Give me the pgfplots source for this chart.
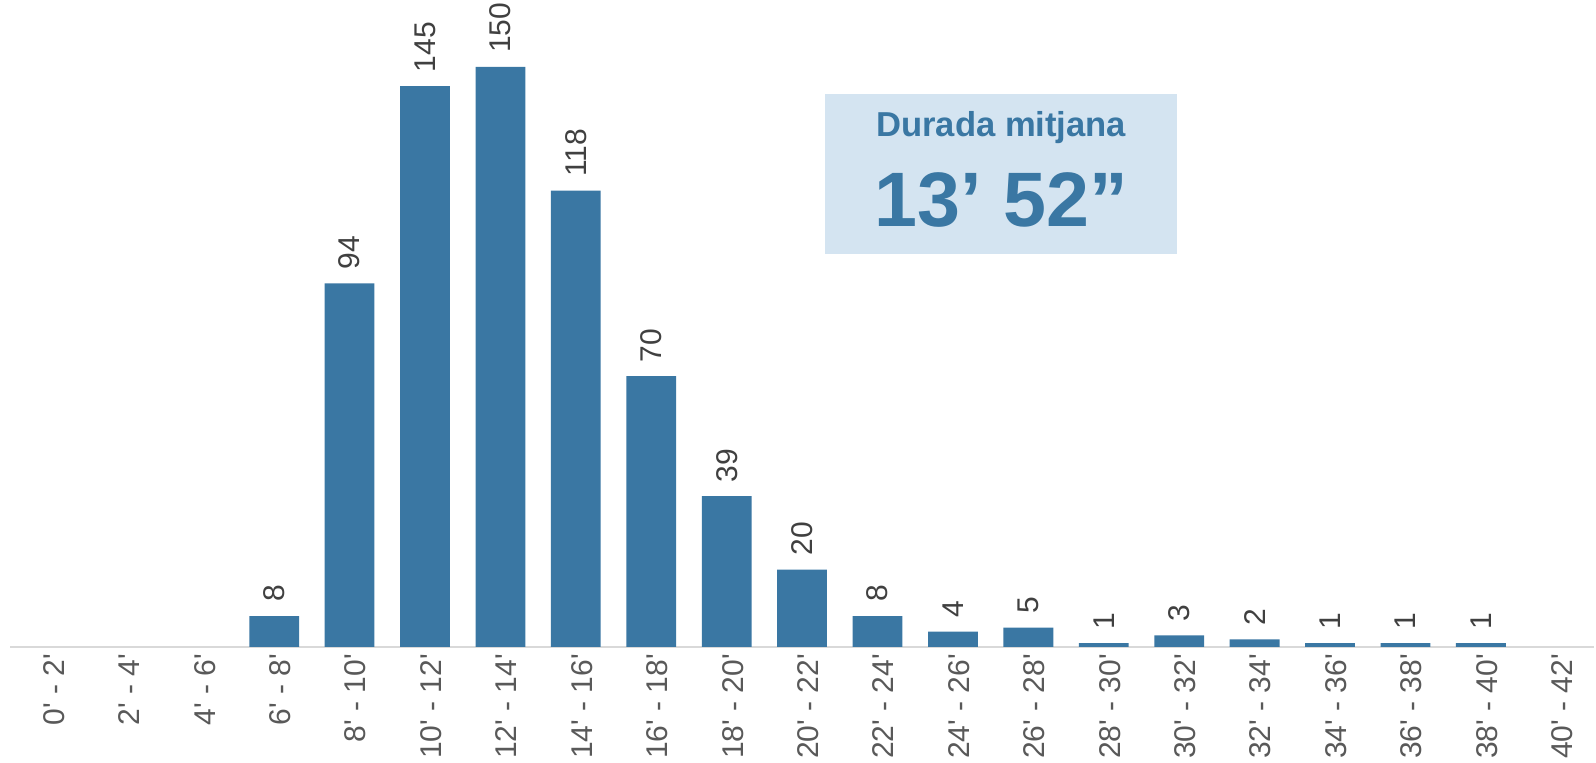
\documentclass[border=0pt]{standalone}
\usepackage{pgfplots}
\pgfplotsset{compat=1.18}
\usepackage{fontspec}
\setmainfont{Liberation Sans}
\newcommand\q{\textquotesingle}
\definecolor{barblue}{HTML}{3A77A3}
\definecolor{boxblue}{HTML}{D4E4F1}
\definecolor{lblgray}{HTML}{404040}
\definecolor{tickgray}{HTML}{595959}
\definecolor{axgray}{HTML}{D9D9D9}
\begin{document}
\begin{tikzpicture}
\begin{axis}[
  at={(0,0)}, anchor=origin,
  scale only axis,
  width=791.9pt, height=319.1pt,
  xmin=-0.5, xmax=20.5,
  ymin=0, ymax=165,
  axis line style={draw=none},
  axis x line=bottom,
  axis y line=none,
  xtick={0,...,20},
  xticklabels={0\q{} - 2\q,2\q{} - 4\q,4\q{} - 6\q,6\q{} - 8\q,8\q{} - 10\q,10\q{} - 12\q,12\q{} - 14\q,14\q{} - 16\q,16\q{} - 18\q,18\q{} - 20\q,20\q{} - 22\q,22\q{} - 24\q,24\q{} - 26\q,26\q{} - 28\q,28\q{} - 30\q,30\q{} - 32\q,32\q{} - 34\q,34\q{} - 36\q,36\q{} - 38\q,38\q{} - 40\q,40\q{} - 42\q},
  x tick label style={rotate=90, anchor=east, font=\fontsize{15}{17}\selectfont, text=tickgray, yshift=-3pt},
  major tick length=0pt,
  ytick=\empty,
  clip=false,
  /pgf/number format/assume math mode=true,
]
\draw[axgray, line width=1pt] (axis cs:-0.5,0) -- (axis cs:20.5,0);
\addplot[ybar, bar width=24.9pt, fill=barblue, draw=none,
  nodes near coords, nodes near coords align={vertical},
  every node near coord/.append style={rotate=90, anchor=west, font=\fontsize{15}{17}\selectfont, text=lblgray, xshift=3.5pt}]
coordinates {
(3,8) (4,94) (5,145) (6,150) (7,118) (8,70) (9,39) (10,20) (11,8) (12,4) (13,5) (14,1) (15,3) (16,2) (17,1) (18,1) (19,1)
};
\fill[boxblue] (axis cs:10.31,101.6) rectangle (axis cs:14.97,142.9);
\node[anchor=base, inner sep=0pt, text=barblue, font=\fontsize{17.3}{20}\selectfont\bfseries] at (axis cs:12.64,131.9) {Durada mitjana};
\node[anchor=base, inner sep=0pt, text=barblue, font=\fontsize{38.6}{42}\selectfont\bfseries] at (axis cs:12.64,108.8) {13’ 52”};
\end{axis}
\pgfresetboundingbox
\path (-23.95pt,-58pt) rectangle (774.05pt,323.5pt);
\end{tikzpicture}
\end{document}
